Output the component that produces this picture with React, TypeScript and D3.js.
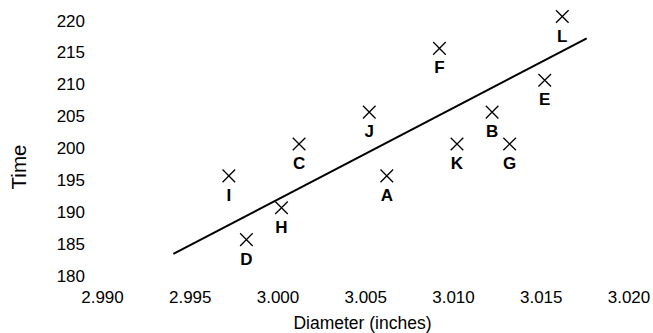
import React, { useEffect, useRef } from "react";
import * as d3 from "d3";

const labels = ["I", "D", "H", "C", "J", "A", "F", "K", "B", "G", "E", "L"];
const diameters = [2.997, 2.998, 3.0, 3.001, 3.005, 3.006, 3.009, 3.01, 3.012, 3.013, 3.015, 3.016];
const times = [195, 185, 190, 200, 205, 195, 215, 200, 205, 200, 210, 220];
const trendX = [2.99384, 3.01739];
const trendY = [182.75, 216.58];
const xTicks = [2.99, 2.995, 3.0, 3.005, 3.01, 3.015, 3.02];
const yTicks = [180, 185, 190, 195, 200, 205, 210, 215, 220];

const W = 653;
const H = 333;
const FONT = "Arial, 'Liberation Sans', sans-serif";

export default function App() {
  const ref = useRef<SVGSVGElement>(null);

  useEffect(() => {
    const svg = d3.select(ref.current);
    svg.selectAll("*").remove();

    const x = d3.scaleLinear().domain([2.99, 3.02]).range([106, 632.5]);
    const y = d3.scaleLinear().domain([180, 220]).range([271.5, 16.5]);

    // y tick labels
    svg
      .append("g")
      .selectAll("text")
      .data(yTicks)
      .join("text")
      .attr("x", 85)
      .attr("y", (d) => y(d) + 4)
      .attr("dy", "0.36em")
      .attr("text-anchor", "end")
      .attr("font-family", FONT)
      .attr("font-size", 17)
      .attr("fill", "#000")
      .text((d) => d3.format("d")(d));

    // x tick labels
    svg
      .append("g")
      .selectAll("text")
      .data(xTicks)
      .join("text")
      .attr("x", (d) => x(d) - 3.5)
      .attr("y", 303)
      .attr("text-anchor", "middle")
      .attr("font-family", FONT)
      .attr("font-size", 17)
      .attr("fill", "#000")
      .text((d) => d3.format(".3f")(d));

    // axis titles
    svg
      .append("text")
      .attr("x", 362.5)
      .attr("y", 328.5)
      .attr("text-anchor", "middle")
      .attr("font-family", FONT)
      .attr("font-size", 17.5)
      .attr("fill", "#000")
      .text("Diameter (inches)");

    svg
      .append("text")
      .attr("transform", "translate(25.7,167) rotate(-90)")
      .attr("text-anchor", "middle")
      .attr("font-family", FONT)
      .attr("font-size", 20.5)
      .attr("fill", "#000")
      .text("Time");

    // trend line
    const line = d3
      .line<number>()
      .x((d, i) => x(trendX[i]))
      .y((d) => y(d));
    svg
      .append("path")
      .attr("d", line(trendY))
      .attr("fill", "none")
      .attr("stroke", "#000")
      .attr("stroke-width", 2);

    // markers
    const pts = labels.map((l, i) => ({ l, x: diameters[i], y: times[i] }));
    const s = 6.3;
    const g = svg.append("g");
    const mk = g
      .selectAll("g.pt")
      .data(pts)
      .join("g")
      .attr("class", "pt")
      .attr("transform", (d) => `translate(${x(d.x)},${y(d.y)})`);
    mk.append("path")
      .attr("d", `M${-s},${-s}L${s},${s}M${-s},${s}L${s},${-s}`)
      .attr("stroke", "#000")
      .attr("stroke-width", 1.3)
      .attr("fill", "none");
    mk.append("text")
      .attr("x", 0)
      .attr("y", 25)
      .attr("text-anchor", "middle")
      .attr("font-family", FONT)
      .attr("font-weight", "bold")
      .attr("font-size", 17)
      .attr("fill", "#000")
      .text((d) => d.l);
  }, []);

  return (
    <svg
      ref={ref}
      width={W}
      height={H}
      style={{ position: "absolute", left: 0, top: 0, background: "#fff" }}
    />
  );
}
